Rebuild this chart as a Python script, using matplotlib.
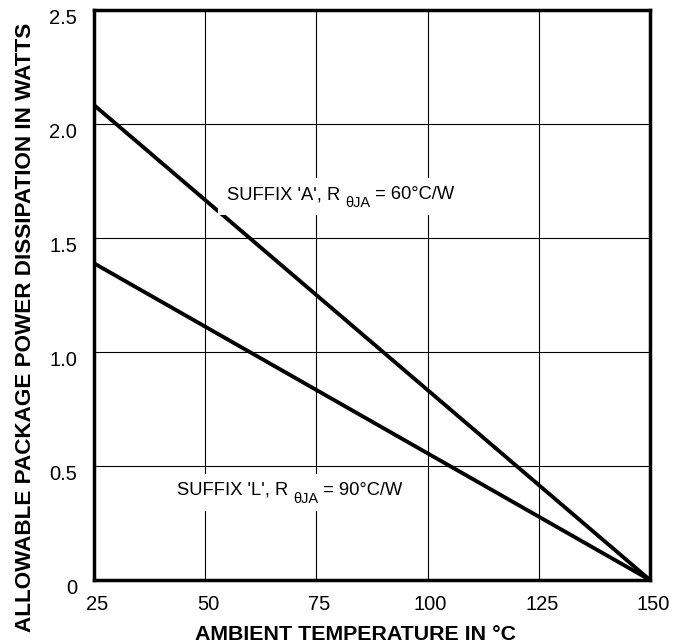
import matplotlib
matplotlib.use("Agg")
import matplotlib.pyplot as plt
from matplotlib.transforms import ScaledTranslation
from matplotlib.patches import Rectangle

# Data
temps = [25, 150]
power_a = [2.083, 0.0]   # SUFFIX 'A', RθJA = 60°C/W
power_l = [1.389, 0.0]   # SUFFIX 'L', RθJA = 90°C/W
x_ticks = [25, 50, 75, 100, 125, 150]
x_tick_labels = ["25", "50", "75", "100", "125", "150"]
y_ticks = [0, 0.5, 1.0, 1.5, 2.0, 2.5]
y_tick_labels = ["0", "0.5", "1.0", "1.5", "2.0", "2.5"]
label_a = ("SUFFIX 'A', R", "θJA", " = 60°C/W")
label_l = ("SUFFIX 'L', R", "θJA", " = 90°C/W")

plt.rcParams['font.family'] = ['Liberation Sans', 'DejaVu Sans']

fig = plt.figure(figsize=(6.75, 6.44), dpi=100)
W, H = 675, 644
left, right, top, bottom = 94, 650, 10, 580
ax = fig.add_axes([left / W, (H - bottom) / H, (right - left) / W, (bottom - top) / H])

ax.set_xlim(25, 150)
ax.set_ylim(0, 2.5)
ax.set_xticks(x_ticks)
ax.set_xticklabels(x_tick_labels, fontsize=14.5)
ax.set_yticks(y_ticks)
ax.set_yticklabels(y_tick_labels, fontsize=14.5)
ax.tick_params(axis='both', length=0)
ax.tick_params(axis='x', pad=11)
ax.tick_params(axis='y', pad=12)

for lab in ax.get_yticklabels():
    lab.set_transform(lab.get_transform() + ScaledTranslation(0, -6 / 100, fig.dpi_scale_trans))
for lab in ax.get_xticklabels():
    lab.set_transform(lab.get_transform() + ScaledTranslation(3 / 100, 0, fig.dpi_scale_trans))

ax.grid(True, color='black', linewidth=0.8, zorder=1)
ax.set_axisbelow(True)
for s in ax.spines.values():
    s.set_linewidth(2.5)
    s.set_zorder(6)

ax.plot(temps, power_a, color='black', linewidth=2.8, zorder=3, solid_capstyle='butt')
ax.plot(temps, power_l, color='black', linewidth=2.8, zorder=3, solid_capstyle='butt')

ax.set_xlabel("AMBIENT TEMPERATURE IN °C", fontsize=15.4, fontweight='bold')
ax.xaxis.set_label_coords(0.471, -0.079)
ax.set_ylabel("ALLOWABLE PACKAGE POWER DISSIPATION IN WATTS", fontsize=16.2, fontweight='bold')
ax.yaxis.set_label_coords(-0.104, 0.444)

fig.canvas.draw()
renderer = fig.canvas.get_renderer()

MAIN_FS = 13.2
SUB_FS = 10.5


def rating_label(x, y, parts):
    """Main text, subscript and remainder laid out on one baseline; white box behind."""
    main, sub, rest = parts
    inv = ax.transData.inverted()
    bx, by = ax.transData.transform((x, y))
    t1 = ax.text(x, y, main, fontsize=MAIN_FS, ha='left', va='baseline', zorder=5)
    e1 = t1.get_window_extent(renderer)
    sx, sy = inv.transform((e1.x1 + 5, by - 8))
    t2 = ax.text(sx, sy, sub, fontsize=SUB_FS, ha='left', va='baseline', zorder=5)
    e2 = t2.get_window_extent(renderer)
    rx, ry = inv.transform((e2.x1, by))
    t3 = ax.text(rx, ry, rest, fontsize=MAIN_FS, ha='left', va='baseline', zorder=5)
    e3 = t3.get_window_extent(renderer)
    cap = 0.716 * MAIN_FS * 100 / 72
    x0, x1 = e1.x0 - 9, e3.x1 + 8
    y0, y1 = by - 16, by + cap + 8
    (dx0, dy0), (dx1, dy1) = inv.transform([(x0, y0), (x1, y1)])
    ax.add_patch(Rectangle((dx0, dy0), dx1 - dx0, dy1 - dy0, facecolor='white',
                           edgecolor='none', zorder=4))


rating_label(54.9, 1.671, label_a)
rating_label(43.66, 0.373, label_l)

fig.savefig("out.png", dpi=100)
